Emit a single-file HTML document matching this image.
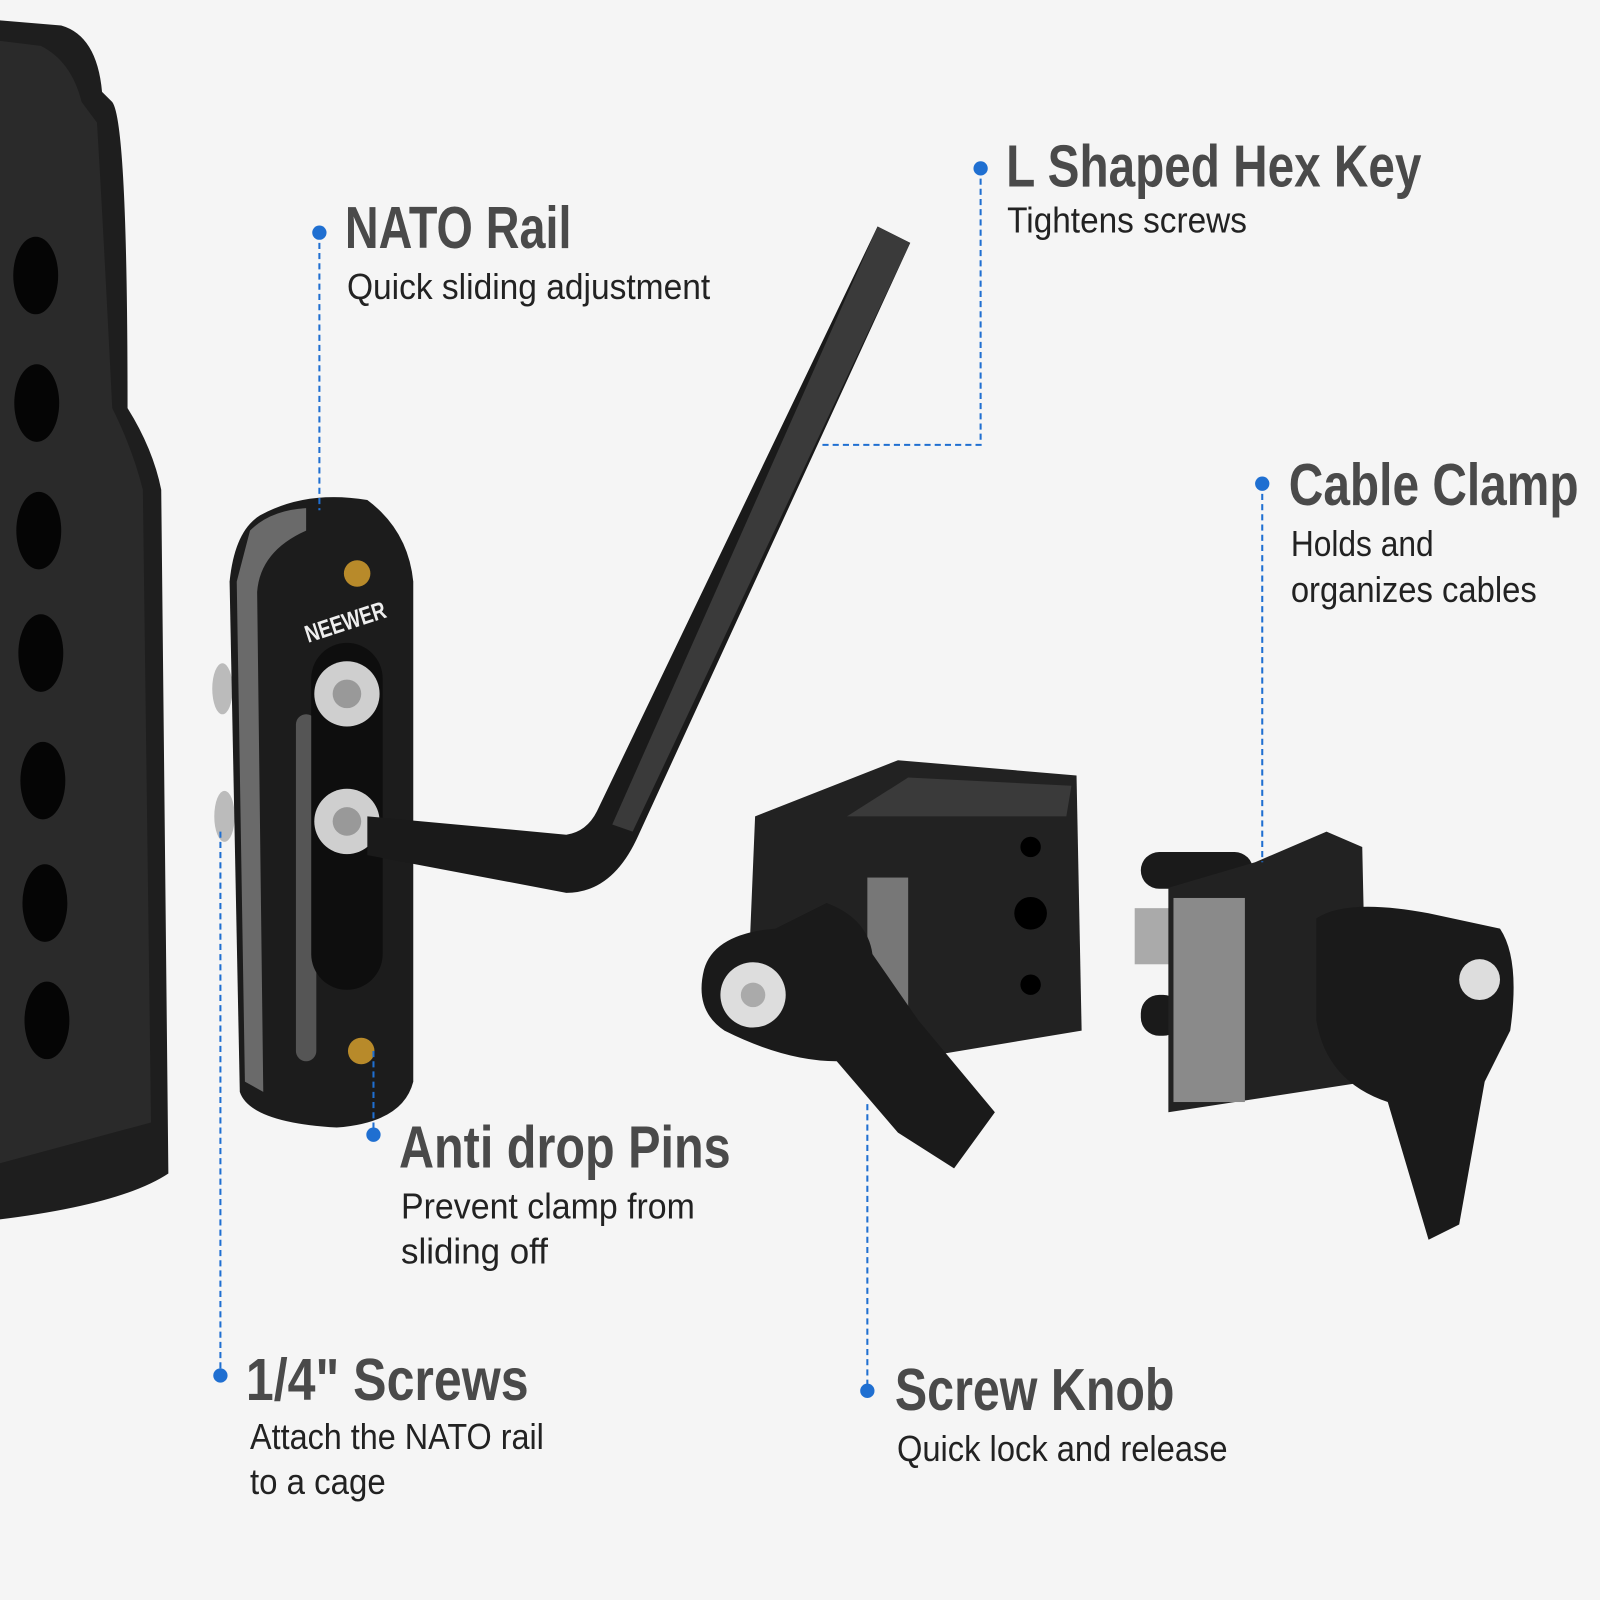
<!DOCTYPE html>
<html><head><meta charset="utf-8"><style>
html,body{margin:0;padding:0;background:#f5f5f5}
svg{display:block}
.t{font-family:"Liberation Sans Narrow","Liberation Sans",sans-serif;font-weight:bold;fill:#4a4a4a;font-size:58px}
.s{font-family:"Liberation Sans Narrow","Liberation Sans",sans-serif;fill:#222;font-size:35px}
.l{stroke:#1f6fd1;stroke-width:2;stroke-dasharray:6 4;fill:none}
.d{fill:#1f6fd1}
</style></head><body>
<svg width="1600" height="1600" viewBox="0 0 1568 1568" xmlns="http://www.w3.org/2000/svg">
<rect width="1568" height="1568" fill="#f5f5f5"/>
<!-- cage -->
<path d="M0 20 L60 25 Q95 35 100 90 L110 100 Q125 120 125 400 Q150 440 158 480 L165 1150 Q120 1180 0 1195 Z" fill="#1e1e1e"/>
<path d="M0 40 L40 45 Q70 60 80 100 L95 120 Q100 200 110 400 Q130 440 140 480 L148 1100 L0 1140 Z" fill="#2a2a2a"/>
<g fill="#050505">
<ellipse cx="35" cy="270" rx="22" ry="38"/><ellipse cx="36" cy="395" rx="22" ry="38"/>
<ellipse cx="38" cy="520" rx="22" ry="38"/><ellipse cx="40" cy="640" rx="22" ry="38"/>
<ellipse cx="42" cy="765" rx="22" ry="38"/><ellipse cx="44" cy="885" rx="22" ry="38"/>
<ellipse cx="46" cy="1000" rx="22" ry="38"/>
</g>
<!-- NATO rail -->
<ellipse cx="218" cy="675" rx="10" ry="25" fill="#bbb"/>
<ellipse cx="220" cy="800" rx="10" ry="25" fill="#bbb"/>
<path d="M255 505 Q300 480 360 490 Q400 520 405 570 L405 1060 Q395 1100 330 1105 Q245 1100 235 1070 L225 570 Q230 520 255 505 Z" fill="#1c1c1c"/>
<path d="M245 520 Q265 500 300 498 L300 520 Q255 540 252 580 L258 1070 L240 1060 L232 570 Z" fill="#6a6a6a"/>
<rect x="290" y="700" width="20" height="340" rx="10" fill="#555"/>
<rect x="305" y="630" width="70" height="340" rx="35" fill="#0e0e0e"/>
<circle cx="340" cy="680" r="32" fill="#cfcfcf"/><circle cx="340" cy="680" r="14" fill="#999"/>
<circle cx="340" cy="805" r="32" fill="#cfcfcf"/><circle cx="340" cy="805" r="14" fill="#999"/>
<circle cx="350" cy="562" r="13" fill="#b88a2a"/><circle cx="354" cy="1030" r="13" fill="#b88a2a"/>
<text x="302" y="630" transform="rotate(-18 302 630)" font-family="Liberation Sans" font-weight="bold" font-size="24" fill="#eee" textLength="82" lengthAdjust="spacingAndGlyphs">NEEWER</text>
<!-- hex key -->
<path d="M360 800 L555 818 Q575 815 585 795 L860 222 L892 238 L625 820 Q600 875 555 875 L360 838 Z" fill="#1a1a1a"/>
<path d="M860 222 L892 238 L620 815 L600 808 Z" fill="#3a3a3a"/>
<!-- screw knob clamp -->
<path d="M740 800 L880 745 L1055 760 L1060 1010 L880 1040 L735 920 Z" fill="#222"/>
<path d="M890 762 L1050 770 L1045 800 L830 800 Z" fill="#3a3a3a"/>
<rect x="850" y="860" width="40" height="130" fill="#777"/>
<circle cx="1010" cy="830" r="10" fill="#000"/><circle cx="1010" cy="895" r="16" fill="#000"/><circle cx="1010" cy="965" r="10" fill="#000"/>
<path d="M690 950 Q700 915 760 910 L810 885 Q850 900 855 935 L900 1000 L975 1090 L935 1145 L880 1110 L820 1040 Q770 1040 710 1010 Q680 990 690 950 Z" fill="#1a1a1a"/>
<circle cx="738" cy="975" r="32" fill="#ddd"/><circle cx="738" cy="975" r="12" fill="#aaa"/>
<!-- cable clamp -->
<rect x="1118" y="835" width="110" height="36" rx="18" fill="#1a1a1a"/>
<rect x="1118" y="975" width="40" height="40" rx="18" fill="#1a1a1a"/>
<rect x="1112" y="890" width="40" height="55" fill="#aaa"/>
<path d="M1145 870 L1230 845 L1300 815 L1335 830 L1340 1060 L1145 1090 Z" fill="#222"/>
<rect x="1150" y="880" width="70" height="200" fill="#8a8a8a"/>
<path d="M1290 900 Q1320 880 1400 895 L1470 910 Q1490 940 1480 1010 L1455 1060 L1430 1200 L1400 1215 L1360 1080 Q1300 1060 1290 1000 Z" fill="#1a1a1a"/>
<circle cx="1450" cy="960" r="20" fill="#ddd"/>
<!-- leader lines -->
<line class="l" x1="313" y1="228" x2="313" y2="500"/><circle class="d" cx="313" cy="228" r="7"/>
<polyline class="l" points="961,165 961,436 805,436"/><circle class="d" cx="961" cy="165" r="7"/>
<line class="l" x1="1237" y1="474" x2="1237" y2="845"/><circle class="d" cx="1237" cy="474" r="7"/>
<line class="l" x1="366" y1="1030" x2="366" y2="1112"/><circle class="d" cx="366" cy="1112" r="7"/>
<line class="l" x1="216" y1="815" x2="216" y2="1348"/><circle class="d" cx="216" cy="1348" r="7"/>
<line class="l" x1="850" y1="1082" x2="850" y2="1363"/><circle class="d" cx="850" cy="1363" r="7"/>
<!-- labels -->
<text class="t" x="338" y="243" textLength="222" lengthAdjust="spacingAndGlyphs">NATO Rail</text>
<text class="s" x="340" y="293" textLength="356" lengthAdjust="spacingAndGlyphs">Quick sliding adjustment</text>
<text class="t" x="986" y="183" textLength="407" lengthAdjust="spacingAndGlyphs">L Shaped Hex Key</text>
<text class="s" x="987" y="228" textLength="235" lengthAdjust="spacingAndGlyphs">Tightens screws</text>
<text class="t" x="1263" y="495" textLength="284" lengthAdjust="spacingAndGlyphs">Cable Clamp</text>
<text class="s" x="1265" y="545" textLength="140" lengthAdjust="spacingAndGlyphs">Holds and</text>
<text class="s" x="1265" y="590" textLength="241" lengthAdjust="spacingAndGlyphs">organizes cables</text>
<text class="t" x="391" y="1144" textLength="325" lengthAdjust="spacingAndGlyphs">Anti drop Pins</text>
<text class="s" x="393" y="1194" textLength="288" lengthAdjust="spacingAndGlyphs">Prevent clamp from</text>
<text class="s" x="393" y="1238" textLength="144" lengthAdjust="spacingAndGlyphs">sliding off</text>
<text class="t" x="241" y="1372" textLength="277" lengthAdjust="spacingAndGlyphs">1/4" Screws</text>
<text class="s" x="245" y="1420" textLength="288" lengthAdjust="spacingAndGlyphs">Attach the NATO rail</text>
<text class="s" x="245" y="1464" textLength="133" lengthAdjust="spacingAndGlyphs">to a cage</text>
<text class="t" x="877" y="1382" textLength="274" lengthAdjust="spacingAndGlyphs">Screw Knob</text>
<text class="s" x="879" y="1432" textLength="324" lengthAdjust="spacingAndGlyphs">Quick lock and release</text>
</svg>
</body></html>
